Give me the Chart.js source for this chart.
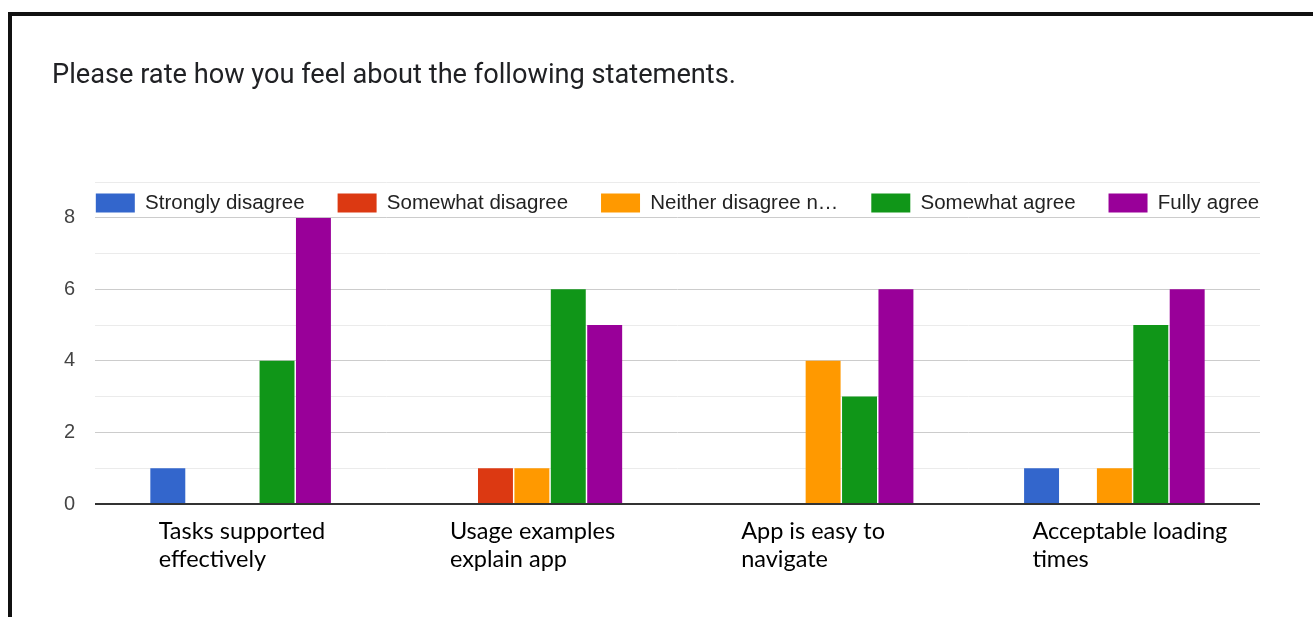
<!DOCTYPE html>
<html><head><meta charset="utf-8">
<script src="https://cdn.jsdelivr.net/npm/chart.js@4.4.1/dist/chart.umd.min.js"></script>
<style>
html,body{margin:0;padding:0;background:#fff;overflow:hidden;width:1313px;height:617px;}
#frame{position:absolute;left:8px;top:12px;width:1400px;height:700px;border-top:4px solid #111;border-left:4px solid #111;}
#wrap{position:absolute;left:12px;top:16px;width:1301px;height:601px;}
</style></head><body>
<div id="frame"></div>
<div id="wrap"><canvas id="c"></canvas></div>
<script>
const titleText = 'Please rate how you feel about the following statements.';
const categories = [['Tasks supported','effectively'],['Usage examples','explain app'],['App is easy to','navigate'],['Acceptable loading','times']];
const seriesNames = ['Strongly disagree','Somewhat disagree','Neither disagree nor agree','Somewhat agree','Fully agree'];
const stronglyDisagree = [1,0,0,1];
const somewhatDisagree = [0,1,0,0];
const neitherAgree = [0,1,4,1];
const somewhatAgree = [4,6,3,5];
const fullyAgree = [8,5,6,6];
const yTickLabels = [0,2,4,6,8];
const seriesColors = ['#3366cc','#dc3912','#ff9900','#109618','#990099'];

const seriesValues = [stronglyDisagree, somewhatDisagree, neitherAgree, somewhatAgree, fullyAgree];

const topLine = {
  id:'topLine',
  afterDraw(chart){
    const y = chart.scales.y, a = chart.chartArea, ctx = chart.ctx;
    const py = Math.round(y.getPixelForValue(9)) + 0.5;
    ctx.save();
    ctx.strokeStyle = '#ebebeb'; ctx.lineWidth = 1;
    ctx.beginPath(); ctx.moveTo(a.left, py); ctx.lineTo(a.right, py); ctx.stroke();
    ctx.restore();
  }
};

new Chart(document.getElementById('c'), {
  type:'bar',
  data:{
    labels: categories,
    datasets: seriesNames.map((n,i)=>({
      label:n, data:seriesValues[i], backgroundColor:seriesColors[i], borderWidth:0,
      yAxisID:'y', categoryPercentage:0.625, barPercentage:0.96
    }))
  },
  options:{
    responsive:true, maintainAspectRatio:false, animation:false,
    layout:{padding:{left:40,right:10,top:0,bottom:31}},
    plugins:{
      tooltip:{enabled:false},
      title:{display:true, text:titleText, align:'start', color:'#202124',
        font:{family:'Roboto', size:27.2, weight:'normal'}, padding:{top:44,bottom:67}},
      legend:{display:true, position:'top', maxHeight:58,
        labels:{boxWidth:39, boxHeight:19, padding:33, color:'#222',
          font:{family:'"Liberation Sans", Arial', size:20.5},
          generateLabels(chart){
            const items = Chart.defaults.plugins.legend.labels.generateLabels(chart);
            items.forEach(it=>{ if(it.text.length>19) it.text = it.text.slice(0,18)+'…'; it.lineWidth = 0; });
            return items;
          }}
      }
    },
    scales:{
      x:{
        afterFit(s){ s.paddingLeft = 0; s.paddingRight = 0; },
        grid:{display:false, drawTicks:false}, border:{display:false},
        ticks:{color:'#000', align:'start', labelOffset:-82, padding:13, maxRotation:0, autoSkip:false,
          font:{family:'Lato', size:23.5, lineHeight:'28px'}}
      },
      y:{
        min:0, max:8,
        afterFit(s){ s.width = 43; },
        border:{display:false},
        grid:{drawTicks:false,
          color:c=> c.tick.value===0 ? '#333' : (c.tick.value%2===0 ? '#cccccc' : '#ebebeb'),
          lineWidth:c=> c.tick.value===0 ? 2 : 1},
        ticks:{stepSize:1, padding:20, color:'#444',
          font:{family:'"Liberation Sans", Arial', size:20},
          callback:v=> yTickLabels.includes(v) ? String(v) : ''}
      },
      y2:{
        position:'right', display:true,
        afterFit(s){ s.width = 43; },
        grid:{display:false, drawTicks:false}, border:{display:false},
        ticks:{display:false}
      }
    }
  },
  plugins:[topLine]
});
</script>
</body></html>
